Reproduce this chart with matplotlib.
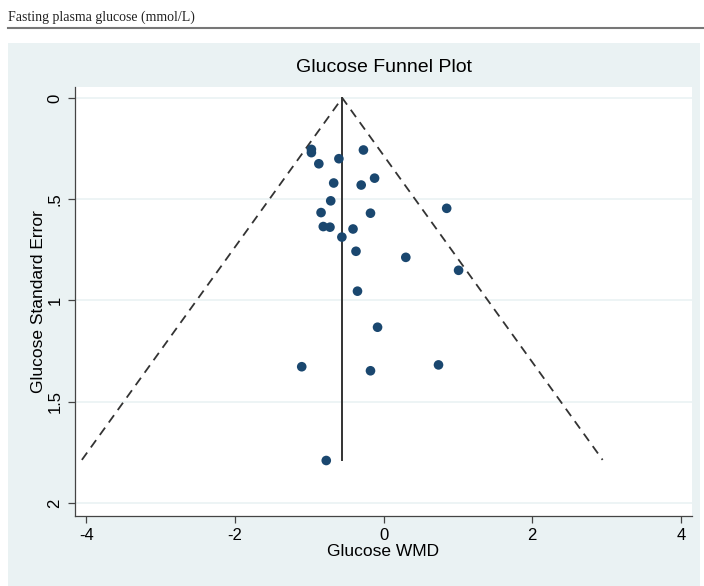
import matplotlib.pyplot as plt
from matplotlib.patches import Rectangle
from matplotlib.lines import Line2D

# study estimates
wmd = [-0.97, -0.97, -0.87, -0.60, -0.27, -0.67, -0.30, -0.12, -0.71, -0.84,
       -0.175, 0.85, -0.81, -0.72, -0.41, -0.56, -0.37, 0.30, 1.01, -0.35,
       -0.08, -1.10, -0.175, 0.74, -0.77]
se = [0.254, 0.27, 0.325, 0.30, 0.257, 0.42, 0.43, 0.396, 0.508, 0.566,
      0.569, 0.545, 0.635, 0.638, 0.647, 0.687, 0.757, 0.787, 0.851, 0.954,
      1.132, 1.327, 1.347, 1.318, 1.79]
pooled = -0.555
se_max = 1.787

x_ticks = [-4, -2, 0, 2, 4]
y_ticks = [0, 0.5, 1, 1.5, 2]
y_labels = ['0', '.5', '1', '1.5', '2']

bg = '#eaf2f3'
navy = '#1a476f'

fig = plt.figure(figsize=(7.04, 5.86), dpi=100)
plt.rcParams['font.family'] = ['Liberation Sans', 'DejaVu Sans']

# header text and rule above the graph
fig.text(8 / 704, 1 - 17 / 586, 'Fasting plasma glucose (mmol/L)', family='Liberation Serif',
         fontsize=10, va='center', ha='left', color='#222222')
fig.add_artist(Line2D([8 / 704, 1], [1 - 28 / 586, 1 - 28 / 586], color='#777777', lw=1.5))

# Stata style graph region
fig.add_artist(Rectangle((8 / 704, 0), 692 / 704, 1 - 43 / 586, transform=fig.transFigure,
                         facecolor=bg, edgecolor='none', zorder=-1))

ax = fig.add_axes([75 / 704, 1 - 516 / 586, 617 / 704, 429 / 586])
ax.set_facecolor('white')
for s in ['top', 'right']:
    ax.spines[s].set_visible(False)
for s in ['left', 'bottom']:
    ax.spines[s].set_color('#444444')
    ax.spines[s].set_linewidth(0.9)

for yv in y_ticks:
    ax.axhline(yv, color=bg, lw=1.2, zorder=0)

# pseudo 95% confidence limits
ax.plot([pooled - 1.96 * se_max, pooled, pooled + 1.96 * se_max], [se_max, 0, se_max],
        ls=(0, (5, 3.5)), color='#333333', lw=1.3, zorder=2)
ax.plot([pooled, pooled], [0, se_max], color='#333333', lw=1.4, zorder=2)
ax.scatter(wmd, se, s=48, color=navy, zorder=3, edgecolors='none')

ax.set_xlim(-4.15, 4.15)
ax.set_ylim(2.064, -0.054)
ax.set_xticks(x_ticks)
ax.set_xticklabels([str(t) for t in x_ticks])
ax.set_yticks(y_ticks)
ax.set_yticklabels(y_labels, rotation=90, va='center')
ax.tick_params(axis='both', labelsize=12, color='#444444', length=5, width=0.9, pad=4)

ax.set_title('Glucose Funnel Plot', fontsize=14, pad=11)
ax.set_xlabel('Glucose WMD', fontsize=12.5, labelpad=0)
ax.set_ylabel('Glucose Standard Error', fontsize=12.5, labelpad=1)

fig.savefig('out.png', dpi=100)
